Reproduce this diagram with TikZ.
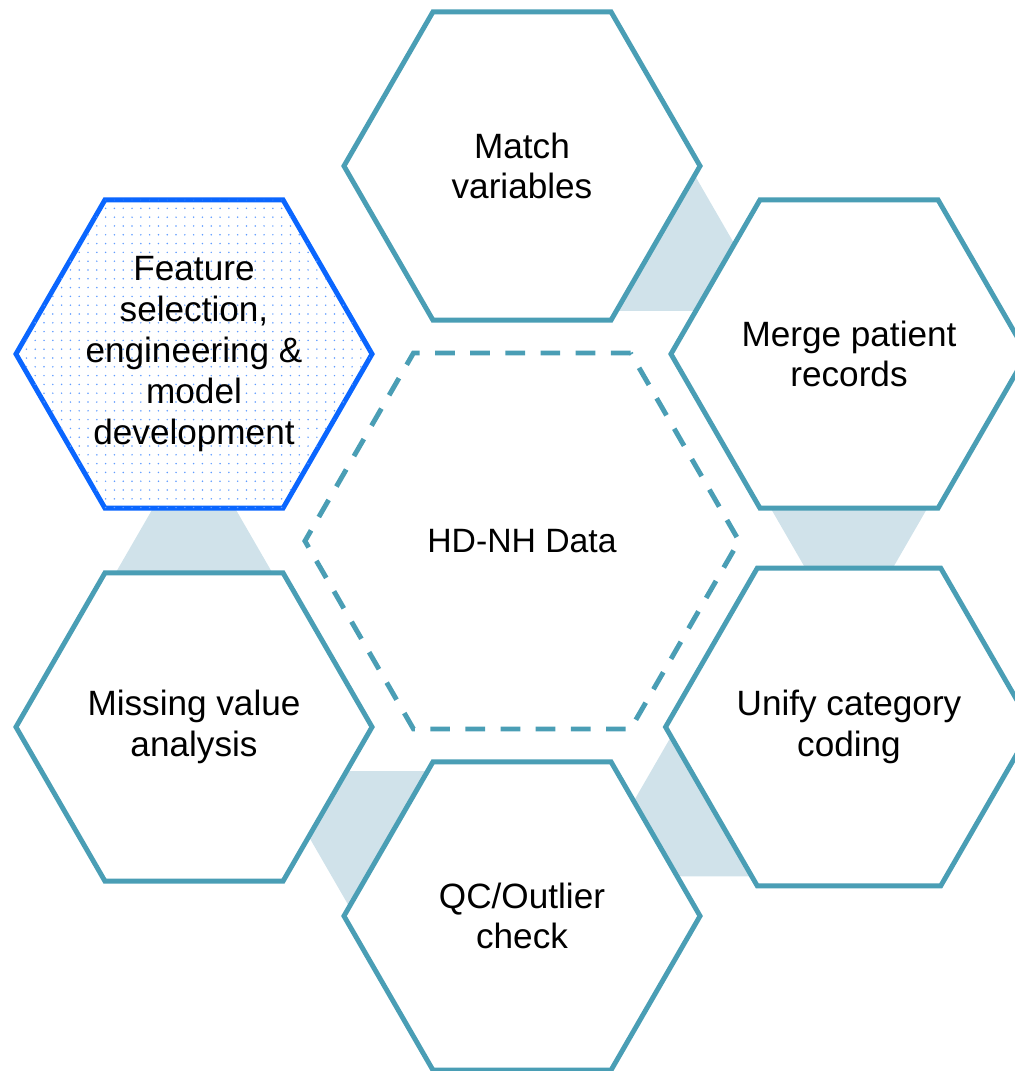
\documentclass[tikz,border=0pt]{standalone}
\usepackage{fontspec}
\setmainfont{Liberation Sans}
\usetikzlibrary{shapes.geometric,calc,backgrounds,patterns.meta}
\definecolor{hexteal}{HTML}{4A9EB5}
\definecolor{bandgray}{HTML}{D0E2EA}
\definecolor{featblue}{HTML}{0A66FF}
\tikzset{hexa/.style={
        regular polygon, regular polygon sides=6,
        minimum size=8.9cm, inner sep=0, outer sep=0,
        draw=hexteal, line width=3.5pt, fill=white,
        align=center, font=\fontsize{25pt}{29pt}\selectfont
  }
}
\tikzset{feature/.style={
        hexa, draw=featblue,
        postaction={pattern={Dots[distance=2.2mm, radius=0.6pt]}, pattern color=featblue!65}
  }
}
\tikzset{datahex/.style={
        hexa, minimum size=10.85cm, fill=none,
        dash pattern=on 14pt off 11pt,
        font=\fontsize{24pt}{28pt}\selectfont
  }
}
\tikzset{band/.style={fill=bandgray}}

\begin{document}
\begin{tikzpicture}[x=0.025cm, y=-0.025cm]
\useasboundingbox (0,0) rectangle (1014,1071);
% Data hexagon
\node[datahex] (hddata) at (522,541) {HD-NH Data};
% Steps
\node[hexa] (match) at (522,166) {Match\\variables};
\node[hexa] (merge) at (849,354) {Merge patient\\records};
\node[hexa] (unify) at (849,727) {Unify category\\coding};
\node[hexa] (qc) at (522,916) {QC/Outlier\\check};
\node[hexa] (missing) at (194,727) {Missing value\\analysis};
\node[feature] (feat) at (194,354) {Feature\\selection,\\engineering \&\\model\\development};
% Bands
\begin{scope}[on background layer]
\foreach \a/\b in {match.300/match.0, merge.240/merge.300, unify.180/unify.240,
                   qc.120/qc.180, missing.60/missing.120}
  \fill[band] ($(\a)!0.06!(\b)$) coordinate (p) -- ($(\b)!0.06!(\a)$) coordinate (q)
        -- ($(p)!1!-60:(q)$) -- cycle;
\end{scope}
\end{tikzpicture}
\end{document}
